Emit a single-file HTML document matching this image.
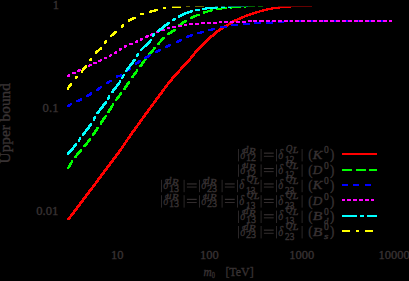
<!DOCTYPE html>
<html><head><meta charset="utf-8"><title>plot</title>
<style>
html,body{margin:0;padding:0;background:#000;}
body{width:409px;height:281px;overflow:hidden;position:relative;font-family:"Liberation Serif",serif;}
svg{position:absolute;left:0;top:0;}
text{font-family:"Liberation Serif",serif;fill:#383233;stroke:#383233;stroke-width:0.35px;}
</style></head><body>
<svg width="409" height="281" viewBox="0 0 409 281">
<rect x="0" y="0" width="409" height="281" fill="#000"/>
<g shape-rendering="crispEdges">
<path d="M271 7h20v1h-20zM266 8h14v1h-14zM262 9h11v1h-11zM259 10h9v1h-9zM255 11h9v1h-9zM252 12h8v1h-8zM249 13h8v1h-8zM246 14h8v1h-8zM244 15h7v1h-7zM241 16h7v1h-7zM239 17h6v1h-6zM237 18h6v1h-6zM234 19h7v1h-7zM232 20h6v1h-6zM234 21h2v1h-2zM229 22h1v1h-1zM228 23h5v1h-5zM226 24h5v1h-5zM224 25h5v1h-5zM227 26h1v1h-1zM219 28h5v1h-5zM218 29h5v1h-5zM216 30h5v1h-5zM215 31h5v1h-5zM214 32h4v1h-4zM213 33h4v1h-4zM212 34h4v1h-4zM210 35h5v1h-5zM209 36h5v1h-5zM208 37h4v1h-4zM207 38h4v1h-4zM206 39h4v1h-4zM205 40h4v1h-4zM204 41h4v1h-4zM203 42h4v1h-4zM202 43h4v1h-4zM201 44h4v1h-4zM200 45h4v1h-4zM199 46h4v1h-4zM198 47h4v1h-4zM197 48h4v1h-4zM196 49h4v1h-4zM195 50h4v1h-4zM194 51h4v1h-4zM194 52h3v1h-3zM193 53h3v1h-3zM192 54h3v1h-3zM191 55h4v1h-4zM190 56h4v1h-4zM190 57h3v1h-3zM189 58h3v1h-3zM188 59h3v1h-3zM187 60h4v1h-4zM186 61h4v1h-4zM185 62h4v1h-4zM184 63h4v1h-4zM183 64h4v1h-4zM182 65h4v1h-4zM181 66h4v1h-4zM180 67h4v1h-4zM180 68h3v1h-3zM179 69h3v1h-3zM178 70h3v1h-3zM177 71h3v1h-3zM176 72h4v1h-4zM175 73h4v1h-4zM174 74h4v1h-4zM173 75h4v1h-4zM172 76h4v1h-4zM171 77h4v1h-4zM171 78h3v1h-3zM170 79h3v1h-3zM169 80h4v1h-4zM168 81h4v1h-4zM167 82h4v1h-4zM167 83h3v1h-3zM166 84h3v1h-3zM165 85h3v1h-3zM164 86h4v1h-4zM164 87h3v1h-3zM163 88h3v1h-3zM162 89h3v1h-3zM161 90h4v1h-4zM161 91h3v1h-3zM160 92h3v1h-3zM159 93h4v1h-4zM158 94h4v1h-4zM158 95h3v1h-3zM157 96h3v1h-3zM156 97h4v1h-4zM155 98h4v1h-4zM155 99h3v1h-3zM154 100h3v1h-3zM153 101h4v1h-4zM153 102h3v1h-3zM152 103h3v1h-3zM151 104h3v1h-3zM150 105h4v1h-4zM150 106h3v1h-3zM149 107h3v1h-3zM148 108h3v1h-3zM147 109h4v1h-4zM147 110h3v1h-3zM146 111h3v1h-3zM145 112h4v1h-4zM144 113h4v1h-4zM144 114h3v1h-3zM143 115h3v1h-3zM142 116h4v1h-4zM142 117h3v1h-3zM141 118h3v1h-3zM140 119h3v1h-3zM139 120h4v1h-4zM139 121h3v1h-3zM138 122h3v1h-3zM137 123h4v1h-4zM137 124h3v1h-3zM136 125h3v1h-3zM135 126h3v1h-3zM134 127h4v1h-4zM134 128h3v1h-3zM133 129h3v1h-3zM132 130h4v1h-4zM131 131h4v1h-4zM131 132h3v1h-3zM130 133h3v1h-3zM129 134h4v1h-4zM129 135h3v1h-3zM128 136h3v1h-3zM127 137h4v1h-4zM127 138h3v1h-3zM126 139h3v1h-3zM125 140h3v1h-3zM125 141h3v1h-3zM124 142h3v1h-3zM123 143h3v1h-3zM123 144h3v1h-3zM122 145h3v1h-3zM121 146h3v1h-3zM121 147h3v1h-3zM120 148h3v1h-3zM119 149h3v1h-3zM118 150h4v1h-4zM118 151h3v1h-3zM117 152h3v1h-3zM116 153h4v1h-4zM115 154h4v1h-4zM115 155h3v1h-3zM114 156h3v1h-3zM113 157h4v1h-4zM112 158h4v1h-4zM112 159h3v1h-3zM111 160h3v1h-3zM110 161h4v1h-4zM109 162h4v1h-4zM109 163h3v1h-3zM108 164h3v1h-3zM107 165h4v1h-4zM106 166h4v1h-4zM106 167h3v1h-3zM105 168h3v1h-3zM104 169h4v1h-4zM103 170h4v1h-4zM103 171h3v1h-3zM102 172h3v1h-3zM101 173h4v1h-4zM100 174h4v1h-4zM100 175h3v1h-3zM99 176h3v1h-3zM98 177h4v1h-4zM97 178h4v1h-4zM97 179h3v1h-3zM96 180h3v1h-3zM95 181h4v1h-4zM95 182h3v1h-3zM94 183h3v1h-3zM93 184h3v1h-3zM92 185h4v1h-4zM92 186h3v1h-3zM91 187h3v1h-3zM90 188h3v1h-3zM89 189h4v1h-4zM88 190h4v1h-4zM88 191h3v1h-3zM87 192h3v1h-3zM86 193h4v1h-4zM85 194h4v1h-4zM85 195h3v1h-3zM84 196h3v1h-3zM83 197h4v1h-4zM82 198h4v1h-4zM82 199h3v1h-3zM81 200h3v1h-3zM80 201h4v1h-4zM79 202h4v1h-4zM79 203h3v1h-3zM78 204h3v1h-3zM77 205h4v1h-4zM76 206h4v1h-4zM76 207h3v1h-3zM75 208h3v1h-3zM74 209h4v1h-4zM73 210h4v1h-4zM73 211h3v1h-3zM72 212h3v1h-3zM71 213h4v1h-4zM70 214h4v1h-4zM70 215h3v1h-3zM69 216h3v1h-3zM68 217h3v1h-3zM67 218h4v1h-4zM67 219h3v1h-3z" fill="#ff0000"/>
<path d="M278 6h34v1h-34z" fill="#ff0000" opacity="0.4"/>
<path d="M225 7h2v1h-2zM231 7h10v1h-10zM244 7h2v1h-2zM217 8h10v1h-10zM230 8h2v1h-2zM210 9h3v1h-3zM216 9h6v1h-6zM207 10h6v1h-6zM203 11h9v1h-9zM203 12h5v1h-5zM203 13h2v1h-2zM196 14h4v1h-4zM193 15h7v1h-7zM191 16h6v1h-6zM190 17h5v1h-5zM190 18h3v1h-3zM184 20h3v1h-3zM182 21h5v1h-5zM181 22h5v1h-5zM180 23h4v1h-4zM178 24h5v1h-5zM173 29h3v1h-3zM171 30h5v1h-5zM170 31h5v1h-5zM168 32h5v1h-5zM167 33h5v1h-5zM167 34h3v1h-3zM162 37h3v1h-3zM161 38h4v1h-4zM160 39h4v1h-4zM160 40h3v1h-3zM159 41h3v1h-3zM158 42h3v1h-3zM157 43h3v1h-3zM157 44h3v1h-3zM153 47h3v1h-3zM153 48h3v1h-3zM152 49h3v1h-3zM151 50h3v1h-3zM150 51h4v1h-4zM149 52h4v1h-4zM148 53h4v1h-4zM148 54h1v1h-1zM144 59h3v1h-3zM143 60h3v1h-3zM142 61h3v1h-3zM141 62h4v1h-4zM141 63h3v1h-3zM140 64h3v1h-3zM139 65h4v1h-4zM139 66h3v1h-3zM136 69h2v1h-2zM136 70h2v1h-2zM135 71h3v1h-3zM134 72h3v1h-3zM133 73h4v1h-4zM133 74h3v1h-3zM132 75h3v1h-3zM131 76h3v1h-3zM131 77h3v1h-3zM128 81h2v1h-2zM127 82h3v1h-3zM126 83h4v1h-4zM126 84h3v1h-3zM125 85h3v1h-3zM124 86h4v1h-4zM124 87h3v1h-3zM123 88h3v1h-3zM123 89h3v1h-3zM120 92h2v1h-2zM119 93h3v1h-3zM119 94h3v1h-3zM118 95h3v1h-3zM117 96h3v1h-3zM116 97h4v1h-4zM116 98h3v1h-3zM115 99h3v1h-3zM115 100h2v1h-2zM112 103h2v1h-2zM112 104h2v1h-2zM111 105h3v1h-3zM110 106h3v1h-3zM110 107h3v1h-3zM109 108h3v1h-3zM108 109h4v1h-4zM108 110h3v1h-3zM107 111h3v1h-3zM107 112h3v1h-3zM105 115h2v1h-2zM104 116h3v1h-3zM103 117h3v1h-3zM102 118h4v1h-4zM102 119h3v1h-3zM101 120h3v1h-3zM100 121h4v1h-4zM100 122h3v1h-3zM100 123h2v1h-2zM100 124h2v1h-2zM96 127h3v1h-3zM96 128h3v1h-3zM95 129h3v1h-3zM94 130h4v1h-4zM94 131h3v1h-3zM93 132h3v1h-3zM92 133h4v1h-4zM92 134h3v1h-3zM92 135h2v1h-2zM89 138h2v1h-2zM88 139h3v1h-3zM87 140h4v1h-4zM87 141h3v1h-3zM86 142h3v1h-3zM85 143h3v1h-3zM84 144h4v1h-4zM83 145h4v1h-4zM83 146h3v1h-3zM80 149h2v1h-2zM79 150h3v1h-3zM78 151h4v1h-4zM77 152h4v1h-4zM76 153h4v1h-4zM76 154h3v1h-3zM75 155h3v1h-3zM74 156h3v1h-3zM74 157h3v1h-3zM71 160h2v1h-2zM71 161h2v1h-2zM70 162h3v1h-3zM69 163h3v1h-3zM69 164h3v1h-3zM68 165h3v1h-3zM68 166h3v1h-3zM67 167h3v1h-3zM67 168h2v1h-2z" fill="#00ff00"/>
<path d="M244 6h2v1h-2zM248 6h7v1h-7zM258 6h5v1h-5z" fill="#00ff00" opacity="0.4"/>
<path d="M289 20h1v1h-1zM299 20h2v1h-2zM311 20h2v1h-2zM323 20h1v1h-1zM334 20h2v1h-2zM346 20h2v1h-2zM358 20h1v1h-1zM369 20h2v1h-2zM381 20h2v1h-2zM271 21h1v1h-1zM282 21h2v1h-2zM289 21h1v1h-1zM299 21h2v1h-2zM311 21h2v1h-2zM323 21h1v1h-1zM334 21h2v1h-2zM346 21h2v1h-2zM358 21h1v1h-1zM369 21h2v1h-2zM381 21h2v1h-2zM254 22h7v1h-7zM266 22h7v1h-7zM278 22h6v1h-6zM243 23h7v1h-7zM254 23h7v1h-7zM266 23h7v1h-7zM231 24h7v1h-7zM243 24h7v1h-7zM231 25h7v1h-7zM220 26h7v1h-7zM220 27h7v1h-7zM211 28h4v1h-4zM208 29h7v1h-7zM208 30h5v1h-5zM200 31h4v1h-4zM197 32h7v1h-7zM197 33h5v1h-5zM190 34h3v1h-3zM187 35h6v1h-6zM186 36h6v1h-6zM186 37h3v1h-3zM179 39h3v1h-3zM177 40h5v1h-5zM176 41h5v1h-5zM176 42h3v1h-3zM168 44h3v1h-3zM166 45h5v1h-5zM165 46h5v1h-5zM165 47h3v1h-3zM158 49h3v1h-3zM156 50h5v1h-5zM155 51h5v1h-5zM155 52h3v1h-3zM149 54h2v1h-2zM147 55h4v1h-4zM145 56h5v1h-5zM144 57h5v1h-5zM144 58h3v1h-3zM138 60h3v1h-3zM137 61h4v1h-4zM135 62h5v1h-5zM135 63h4v1h-4zM135 64h2v1h-2zM130 67h1v1h-1zM130 68h1v1h-1zM129 69h2v1h-2zM128 70h2v1h-2zM127 71h1v1h-1zM120 74h2v1h-2zM116 75h6v1h-6zM116 76h6v1h-6zM116 77h2v1h-2zM109 80h3v1h-3zM107 81h5v1h-5zM106 82h4v1h-4zM106 83h3v1h-3zM100 86h2v1h-2zM98 87h4v1h-4zM97 88h4v1h-4zM96 89h4v1h-4zM96 90h3v1h-3zM90 92h2v1h-2zM89 93h3v1h-3zM87 94h5v1h-5zM86 95h5v1h-5zM86 96h3v1h-3zM80 98h2v1h-2zM78 99h4v1h-4zM76 100h6v1h-6zM76 101h4v1h-4zM70 103h2v1h-2zM68 104h4v1h-4zM67 105h4v1h-4zM67 106h3v1h-3z" fill="#0000ff"/>
<path d="M248 20h4v1h-4zM253 20h4v1h-4zM259 20h5v1h-5zM266 20h4v1h-4zM272 20h4v1h-4zM278 20h4v1h-4zM284 20h4v1h-4zM290 20h3v1h-3zM295 20h4v1h-4zM301 20h4v1h-4zM307 20h4v1h-4zM313 20h4v1h-4zM319 20h4v1h-4zM324 20h4v1h-4zM330 20h4v1h-4zM336 20h4v1h-4zM342 20h4v1h-4zM348 20h4v1h-4zM354 20h4v1h-4zM359 20h4v1h-4zM365 20h4v1h-4zM371 20h4v1h-4zM377 20h4v1h-4zM383 20h4v1h-4zM389 20h3v1h-3zM219 21h3v1h-3zM224 21h4v1h-4zM230 21h4v1h-4zM236 21h4v1h-4zM242 21h4v1h-4zM248 21h4v1h-4zM253 21h4v1h-4zM259 21h5v1h-5zM266 21h4v1h-4zM272 21h4v1h-4zM278 21h4v1h-4zM284 21h4v1h-4zM290 21h3v1h-3zM295 21h4v1h-4zM301 21h4v1h-4zM307 21h4v1h-4zM313 21h4v1h-4zM319 21h4v1h-4zM324 21h4v1h-4zM330 21h4v1h-4zM336 21h4v1h-4zM342 21h4v1h-4zM348 21h4v1h-4zM354 21h4v1h-4zM359 21h4v1h-4zM365 21h4v1h-4zM371 21h4v1h-4zM377 21h4v1h-4zM383 21h4v1h-4zM389 21h3v1h-3zM201 22h4v1h-4zM207 22h4v1h-4zM213 22h4v1h-4zM219 22h3v1h-3zM224 22h4v1h-4zM230 22h4v1h-4zM236 22h4v1h-4zM242 22h4v1h-4zM189 23h4v1h-4zM195 23h4v1h-4zM201 23h4v1h-4zM207 23h4v1h-4zM213 23h4v1h-4zM184 24h3v1h-3zM189 24h4v1h-4zM195 24h4v1h-4zM178 25h4v1h-4zM184 25h3v1h-3zM172 26h4v1h-4zM178 26h4v1h-4zM167 27h3v1h-3zM172 27h4v1h-4zM167 28h3v1h-3zM163 29h2v1h-2zM161 30h4v1h-4zM156 31h1v1h-1zM156 32h3v1h-3zM151 33h2v1h-2zM150 34h2v1h-2zM146 35h3v1h-3zM150 35h2v1h-2zM145 36h4v1h-4zM145 37h3v1h-3zM140 38h3v1h-3zM140 39h3v1h-3zM136 40h2v1h-2zM140 40h2v1h-2zM135 41h3v1h-3zM135 42h3v1h-3zM129 43h4v1h-4zM129 44h4v1h-4zM124 45h3v1h-3zM124 46h3v1h-3zM124 47h2v1h-2zM119 48h3v1h-3zM119 49h3v1h-3zM119 50h2v1h-2zM115 51h2v1h-2zM114 52h3v1h-3zM114 53h3v1h-3zM110 54h2v1h-2zM109 55h3v1h-3zM109 56h2v1h-2zM104 57h3v1h-3zM104 58h3v1h-3zM100 59h2v1h-2zM98 60h4v1h-4zM98 61h3v1h-3zM93 62h4v1h-4zM93 63h4v1h-4zM89 64h3v1h-3zM88 65h4v1h-4zM88 66h2v1h-2zM78 69h3v1h-3zM77 70h4v1h-4zM77 71h3v1h-3zM72 72h4v1h-4zM72 73h4v1h-4zM68 74h2v1h-2zM67 75h3v1h-3zM67 76h3v1h-3z" fill="#ff00ff"/>
<path d="M205 7h13v1h-13zM221 7h4v1h-4zM228 7h3v1h-3zM202 8h15v1h-15zM195 9h5v1h-5zM202 9h5v1h-5zM190 10h3v1h-3zM195 10h5v1h-5zM187 11h6v1h-6zM184 12h8v1h-8zM182 13h7v1h-7zM180 14h6v1h-6zM178 15h6v1h-6zM178 16h4v1h-4zM178 17h2v1h-2zM173 18h3v1h-3zM172 19h4v1h-4zM172 20h3v1h-3zM167 22h3v1h-3zM166 23h4v1h-4zM164 24h5v1h-5zM163 25h5v1h-5zM162 26h4v1h-4zM161 27h4v1h-4zM159 28h5v1h-5zM158 29h5v1h-5zM157 30h4v1h-4zM157 31h3v1h-3zM153 33h2v1h-2zM152 34h3v1h-3zM152 35h3v1h-3zM152 36h2v1h-2zM150 39h2v1h-2zM149 40h3v1h-3zM148 41h3v1h-3zM147 42h4v1h-4zM146 43h4v1h-4zM145 44h4v1h-4zM144 45h4v1h-4zM143 46h4v1h-4zM142 47h3v1h-3zM141 48h3v1h-3zM140 49h3v1h-3zM140 50h2v1h-2zM137 53h2v1h-2zM136 54h3v1h-3zM136 55h3v1h-3zM136 56h2v1h-2zM133 59h3v1h-3zM132 60h4v1h-4zM132 61h3v1h-3zM131 62h3v1h-3zM130 63h4v1h-4zM129 64h4v1h-4zM129 65h3v1h-3zM128 66h3v1h-3zM127 67h3v1h-3zM126 68h4v1h-4zM126 69h3v1h-3zM125 70h3v1h-3zM125 71h2v1h-2zM123 74h2v1h-2zM122 75h3v1h-3zM122 76h2v1h-2zM121 77h3v1h-3zM121 78h2v1h-2zM119 80h2v1h-2zM119 81h2v1h-2zM118 82h3v1h-3zM117 83h3v1h-3zM116 84h4v1h-4zM116 85h3v1h-3zM115 86h3v1h-3zM114 87h3v1h-3zM113 88h4v1h-4zM112 89h4v1h-4zM112 90h3v1h-3zM111 91h3v1h-3zM111 92h3v1h-3zM108 95h2v1h-2zM108 96h2v1h-2zM107 97h3v1h-3zM107 98h3v1h-3zM107 99h2v1h-2zM105 101h2v1h-2zM104 102h3v1h-3zM103 103h4v1h-4zM102 104h4v1h-4zM102 105h3v1h-3zM101 106h3v1h-3zM100 107h4v1h-4zM99 108h4v1h-4zM99 109h3v1h-3zM98 110h3v1h-3zM97 111h3v1h-3zM96 112h4v1h-4zM96 113h3v1h-3zM94 116h2v1h-2zM93 117h3v1h-3zM93 118h3v1h-3zM93 119h2v1h-2zM93 120h2v1h-2zM90 123h2v1h-2zM89 124h3v1h-3zM88 125h4v1h-4zM88 126h3v1h-3zM87 127h3v1h-3zM86 128h4v1h-4zM85 129h4v1h-4zM85 130h3v1h-3zM84 131h3v1h-3zM83 132h3v1h-3zM82 133h4v1h-4zM82 134h3v1h-3zM82 135h2v1h-2zM79 137h2v1h-2zM79 138h2v1h-2zM78 139h3v1h-3zM78 140h2v1h-2zM78 141h2v1h-2zM75 143h2v1h-2zM74 144h3v1h-3zM73 145h4v1h-4zM73 146h3v1h-3zM72 147h3v1h-3zM71 148h3v1h-3zM70 149h4v1h-4zM69 150h4v1h-4zM68 151h4v1h-4zM67 152h4v1h-4zM67 153h3v1h-3zM67 154h2v1h-2z" fill="#00ffff"/>
<path d="M215 6h3v1h-3zM221 6h4v1h-4zM228 6h16v1h-16zM246 6h2v1h-2z" fill="#00ffff" opacity="0.4"/>
<path d="M163 7h3v1h-3zM172 7h9v1h-9zM163 8h3v1h-3zM154 9h4v1h-4zM150 10h8v1h-8zM149 11h7v1h-7zM149 12h3v1h-3zM140 13h4v1h-4zM140 14h4v1h-4zM132 17h4v1h-4zM130 18h6v1h-6zM128 19h6v1h-6zM128 20h4v1h-4zM128 21h2v1h-2zM122 24h2v1h-2zM121 25h3v1h-3zM121 26h3v1h-3zM121 27h2v1h-2zM114 31h3v1h-3zM113 32h4v1h-4zM112 33h4v1h-4zM111 34h4v1h-4zM110 35h4v1h-4zM110 36h2v1h-2zM105 40h2v1h-2zM104 41h3v1h-3zM104 42h3v1h-3zM104 43h2v1h-2zM100 47h2v1h-2zM99 48h3v1h-3zM98 49h4v1h-4zM96 50h4v1h-4zM95 51h4v1h-4zM95 52h3v1h-3zM95 53h2v1h-2zM90 58h2v1h-2zM89 59h3v1h-3zM89 60h3v1h-3zM85 65h2v1h-2zM84 66h3v1h-3zM83 67h4v1h-4zM82 68h4v1h-4zM82 69h3v1h-3zM81 70h3v1h-3zM81 71h2v1h-2zM81 72h2v1h-2zM75 76h3v1h-3zM75 77h3v1h-3zM75 78h2v1h-2zM70 83h2v1h-2zM69 84h3v1h-3zM68 85h4v1h-4zM68 86h3v1h-3zM67 87h3v1h-3zM67 88h2v1h-2zM67 89h2v1h-2z" fill="#ffff00"/>
<path d="M172 6h9v1h-9zM186 6h4v1h-4zM195 6h9v1h-9z" fill="#ffff00" opacity="0.4"/>
<path d="M342 153h35v2h-35z" fill="#ff0000"/>
<path d="M342 169h10v2h-10zM356 169h10v2h-10zM369 169h8v2h-8z" fill="#00ff00"/>
<path d="M342 184h6v2h-6zM353 184h6v2h-6zM365 184h6v2h-6z" fill="#0000ff"/>
<path d="M342 199h3v2h-3zM347 199h4v2h-4zM353 199h4v2h-4zM359 199h4v2h-4zM365 199h4v2h-4zM371 199h3v2h-3z" fill="#ff00ff"/>
<path d="M342 215h15v2h-15zM360 215h4v2h-4zM367 215h10v2h-10z" fill="#00ffff"/>
<path d="M342 230h8v2h-8zM356 230h3v2h-3zM365 230h8v2h-8z" fill="#ffff00"/>
</g>
<g>
<text x="52.80" y="8.50" font-size="13.20" text-anchor="start" textLength="6.25" lengthAdjust="spacingAndGlyphs" >1</text>
<text x="42.60" y="111.80" font-size="13.20" text-anchor="start" textLength="15.90" lengthAdjust="spacingAndGlyphs" >0.1</text>
<text x="36.20" y="214.80" font-size="13.20" text-anchor="start" textLength="22.15" lengthAdjust="spacingAndGlyphs" >0.01</text>
<text x="110.95" y="258.60" font-size="13.20" text-anchor="start" textLength="12.50" lengthAdjust="spacingAndGlyphs" >10</text>
<text x="200.12" y="258.60" font-size="13.20" text-anchor="start" textLength="18.75" lengthAdjust="spacingAndGlyphs" >100</text>
<text x="289.30" y="258.60" font-size="13.20" text-anchor="start" textLength="25.00" lengthAdjust="spacingAndGlyphs" >1000</text>
<text x="378.48" y="258.60" font-size="13.20" text-anchor="start" textLength="31.25" lengthAdjust="spacingAndGlyphs" >10000</text>
<text x="203.50" y="276.10" font-size="12.60" text-anchor="start" textLength="8.20" lengthAdjust="spacingAndGlyphs" font-style="italic" >m</text>
<text x="211.80" y="277.60" font-size="8.60" text-anchor="start" textLength="3.20" lengthAdjust="spacingAndGlyphs" >0</text>
<text x="225.40" y="276.10" font-size="12.80" text-anchor="start" textLength="28.20" lengthAdjust="spacingAndGlyphs" >[TeV]</text>
<text transform="translate(9.8,163.4) rotate(-90) scale(1,1.05)" x="0" y="0" font-size="14.2" textLength="80.2" lengthAdjust="spacingAndGlyphs">Upper bound</text>
<rect x="238.00" y="149.00" width="1.0" height="12.4" fill="#2a2627"/>
<text x="240.20" y="158.50" font-size="13.80" text-anchor="start" textLength="4.90" lengthAdjust="spacingAndGlyphs" font-style="italic" >δ</text>
<text x="243.40" y="152.70" font-size="10.40" text-anchor="start" textLength="4.90" lengthAdjust="spacingAndGlyphs" font-style="italic" >d</text>
<text x="249.10" y="154.10" font-size="8.40" text-anchor="start" textLength="6.60" lengthAdjust="spacingAndGlyphs" font-style="italic" >R</text>
<text x="245.90" y="161.20" font-size="10.40" text-anchor="start" textLength="10.00" lengthAdjust="spacingAndGlyphs" >12</text>
<rect x="260.60" y="149.00" width="1.0" height="12.4" fill="#2a2627"/>
<rect x="263.90" y="152.60" width="9.8" height="1.1" fill="#383233"/>
<rect x="263.90" y="155.80" width="9.8" height="0.9" fill="#383233"/>
<rect x="276.00" y="149.00" width="1.0" height="12.4" fill="#2a2627"/>
<text x="278.20" y="158.50" font-size="13.80" text-anchor="start" textLength="4.90" lengthAdjust="spacingAndGlyphs" font-style="italic" >δ</text>
<text x="285.70" y="151.60" font-size="10.40" text-anchor="start" textLength="6.70" lengthAdjust="spacingAndGlyphs" font-style="italic" >Q</text>
<text x="292.80" y="153.20" font-size="8.40" text-anchor="start" textLength="5.60" lengthAdjust="spacingAndGlyphs" font-style="italic" >L</text>
<text x="285.10" y="162.80" font-size="10.40" text-anchor="start" textLength="9.20" lengthAdjust="spacingAndGlyphs" >12</text>
<rect x="301.60" y="149.00" width="1.0" height="12.4" fill="#2a2627"/>
<text x="308.30" y="159.40" font-size="15.00" text-anchor="start" textLength="4.30" lengthAdjust="spacingAndGlyphs" >(</text>
<text x="312.70" y="158.50" font-size="13.20" text-anchor="start" textLength="9.60" lengthAdjust="spacingAndGlyphs" font-style="italic" >K</text>
<text x="324.10" y="153.40" font-size="9.90" text-anchor="start" textLength="4.80" lengthAdjust="spacingAndGlyphs" >0</text>
<text x="330.10" y="159.40" font-size="15.00" text-anchor="start" textLength="4.30" lengthAdjust="spacingAndGlyphs" >)</text>
<rect x="238.00" y="164.40" width="1.0" height="12.4" fill="#2a2627"/>
<text x="240.20" y="173.90" font-size="13.80" text-anchor="start" textLength="4.90" lengthAdjust="spacingAndGlyphs" font-style="italic" >δ</text>
<text x="243.40" y="168.10" font-size="10.40" text-anchor="start" textLength="4.90" lengthAdjust="spacingAndGlyphs" font-style="italic" >u</text>
<text x="249.10" y="169.50" font-size="8.40" text-anchor="start" textLength="6.60" lengthAdjust="spacingAndGlyphs" font-style="italic" >R</text>
<text x="245.90" y="176.60" font-size="10.40" text-anchor="start" textLength="10.00" lengthAdjust="spacingAndGlyphs" >12</text>
<rect x="260.60" y="164.40" width="1.0" height="12.4" fill="#2a2627"/>
<rect x="263.90" y="168.00" width="9.8" height="1.1" fill="#383233"/>
<rect x="263.90" y="171.20" width="9.8" height="0.9" fill="#383233"/>
<rect x="276.00" y="164.40" width="1.0" height="12.4" fill="#2a2627"/>
<text x="278.20" y="173.90" font-size="13.80" text-anchor="start" textLength="4.90" lengthAdjust="spacingAndGlyphs" font-style="italic" >δ</text>
<text x="285.70" y="167.00" font-size="10.40" text-anchor="start" textLength="6.70" lengthAdjust="spacingAndGlyphs" font-style="italic" >Q</text>
<text x="292.80" y="168.60" font-size="8.40" text-anchor="start" textLength="5.60" lengthAdjust="spacingAndGlyphs" font-style="italic" >L</text>
<text x="285.10" y="178.20" font-size="10.40" text-anchor="start" textLength="9.20" lengthAdjust="spacingAndGlyphs" >12</text>
<rect x="301.60" y="164.40" width="1.0" height="12.4" fill="#2a2627"/>
<text x="308.30" y="174.80" font-size="15.00" text-anchor="start" textLength="4.30" lengthAdjust="spacingAndGlyphs" >(</text>
<text x="312.70" y="173.90" font-size="13.20" text-anchor="start" textLength="9.60" lengthAdjust="spacingAndGlyphs" font-style="italic" >D</text>
<text x="324.10" y="168.80" font-size="9.90" text-anchor="start" textLength="4.80" lengthAdjust="spacingAndGlyphs" >0</text>
<text x="330.10" y="174.80" font-size="15.00" text-anchor="start" textLength="4.30" lengthAdjust="spacingAndGlyphs" >)</text>
<rect x="161.00" y="179.80" width="1.0" height="12.4" fill="#2a2627"/>
<text x="163.20" y="189.30" font-size="13.80" text-anchor="start" textLength="4.90" lengthAdjust="spacingAndGlyphs" font-style="italic" >δ</text>
<text x="166.40" y="183.50" font-size="10.40" text-anchor="start" textLength="4.90" lengthAdjust="spacingAndGlyphs" font-style="italic" >d</text>
<text x="172.10" y="184.90" font-size="8.40" text-anchor="start" textLength="6.60" lengthAdjust="spacingAndGlyphs" font-style="italic" >R</text>
<text x="168.90" y="192.00" font-size="10.40" text-anchor="start" textLength="10.00" lengthAdjust="spacingAndGlyphs" >13</text>
<rect x="183.60" y="179.80" width="1.0" height="12.4" fill="#2a2627"/>
<rect x="186.90" y="183.40" width="9.8" height="1.1" fill="#383233"/>
<rect x="186.90" y="186.60" width="9.8" height="0.9" fill="#383233"/>
<rect x="199.00" y="179.80" width="1.0" height="12.4" fill="#2a2627"/>
<text x="201.20" y="189.30" font-size="13.80" text-anchor="start" textLength="4.90" lengthAdjust="spacingAndGlyphs" font-style="italic" >δ</text>
<text x="204.40" y="183.50" font-size="10.40" text-anchor="start" textLength="4.90" lengthAdjust="spacingAndGlyphs" font-style="italic" >d</text>
<text x="210.10" y="184.90" font-size="8.40" text-anchor="start" textLength="6.60" lengthAdjust="spacingAndGlyphs" font-style="italic" >R</text>
<text x="206.90" y="192.00" font-size="10.40" text-anchor="start" textLength="10.00" lengthAdjust="spacingAndGlyphs" >23</text>
<rect x="221.60" y="179.80" width="1.0" height="12.4" fill="#2a2627"/>
<rect x="224.90" y="183.40" width="9.8" height="1.1" fill="#383233"/>
<rect x="224.90" y="186.60" width="9.8" height="0.9" fill="#383233"/>
<rect x="237.00" y="179.80" width="1.0" height="12.4" fill="#2a2627"/>
<text x="239.20" y="189.30" font-size="13.80" text-anchor="start" textLength="4.90" lengthAdjust="spacingAndGlyphs" font-style="italic" >δ</text>
<text x="246.70" y="182.40" font-size="10.40" text-anchor="start" textLength="6.70" lengthAdjust="spacingAndGlyphs" font-style="italic" >Q</text>
<text x="253.80" y="184.00" font-size="8.40" text-anchor="start" textLength="5.60" lengthAdjust="spacingAndGlyphs" font-style="italic" >L</text>
<text x="246.10" y="193.60" font-size="10.40" text-anchor="start" textLength="9.20" lengthAdjust="spacingAndGlyphs" >13</text>
<rect x="260.60" y="179.80" width="1.0" height="12.4" fill="#2a2627"/>
<rect x="263.90" y="183.40" width="9.8" height="1.1" fill="#383233"/>
<rect x="263.90" y="186.60" width="9.8" height="0.9" fill="#383233"/>
<rect x="276.00" y="179.80" width="1.0" height="12.4" fill="#2a2627"/>
<text x="278.20" y="189.30" font-size="13.80" text-anchor="start" textLength="4.90" lengthAdjust="spacingAndGlyphs" font-style="italic" >δ</text>
<text x="285.70" y="182.40" font-size="10.40" text-anchor="start" textLength="6.70" lengthAdjust="spacingAndGlyphs" font-style="italic" >Q</text>
<text x="292.80" y="184.00" font-size="8.40" text-anchor="start" textLength="5.60" lengthAdjust="spacingAndGlyphs" font-style="italic" >L</text>
<text x="285.10" y="193.60" font-size="10.40" text-anchor="start" textLength="9.20" lengthAdjust="spacingAndGlyphs" >23</text>
<rect x="301.60" y="179.80" width="1.0" height="12.4" fill="#2a2627"/>
<text x="308.30" y="190.20" font-size="15.00" text-anchor="start" textLength="4.30" lengthAdjust="spacingAndGlyphs" >(</text>
<text x="312.70" y="189.30" font-size="13.20" text-anchor="start" textLength="9.60" lengthAdjust="spacingAndGlyphs" font-style="italic" >K</text>
<text x="324.10" y="184.20" font-size="9.90" text-anchor="start" textLength="4.80" lengthAdjust="spacingAndGlyphs" >0</text>
<text x="330.10" y="190.20" font-size="15.00" text-anchor="start" textLength="4.30" lengthAdjust="spacingAndGlyphs" >)</text>
<rect x="161.00" y="195.20" width="1.0" height="12.4" fill="#2a2627"/>
<text x="163.20" y="204.70" font-size="13.80" text-anchor="start" textLength="4.90" lengthAdjust="spacingAndGlyphs" font-style="italic" >δ</text>
<text x="166.40" y="198.90" font-size="10.40" text-anchor="start" textLength="4.90" lengthAdjust="spacingAndGlyphs" font-style="italic" >u</text>
<text x="172.10" y="200.30" font-size="8.40" text-anchor="start" textLength="6.60" lengthAdjust="spacingAndGlyphs" font-style="italic" >R</text>
<text x="168.90" y="207.40" font-size="10.40" text-anchor="start" textLength="10.00" lengthAdjust="spacingAndGlyphs" >13</text>
<rect x="183.60" y="195.20" width="1.0" height="12.4" fill="#2a2627"/>
<rect x="186.90" y="198.80" width="9.8" height="1.1" fill="#383233"/>
<rect x="186.90" y="202.00" width="9.8" height="0.9" fill="#383233"/>
<rect x="199.00" y="195.20" width="1.0" height="12.4" fill="#2a2627"/>
<text x="201.20" y="204.70" font-size="13.80" text-anchor="start" textLength="4.90" lengthAdjust="spacingAndGlyphs" font-style="italic" >δ</text>
<text x="204.40" y="198.90" font-size="10.40" text-anchor="start" textLength="4.90" lengthAdjust="spacingAndGlyphs" font-style="italic" >u</text>
<text x="210.10" y="200.30" font-size="8.40" text-anchor="start" textLength="6.60" lengthAdjust="spacingAndGlyphs" font-style="italic" >R</text>
<text x="206.90" y="207.40" font-size="10.40" text-anchor="start" textLength="10.00" lengthAdjust="spacingAndGlyphs" >23</text>
<rect x="221.60" y="195.20" width="1.0" height="12.4" fill="#2a2627"/>
<rect x="224.90" y="198.80" width="9.8" height="1.1" fill="#383233"/>
<rect x="224.90" y="202.00" width="9.8" height="0.9" fill="#383233"/>
<rect x="237.00" y="195.20" width="1.0" height="12.4" fill="#2a2627"/>
<text x="239.20" y="204.70" font-size="13.80" text-anchor="start" textLength="4.90" lengthAdjust="spacingAndGlyphs" font-style="italic" >δ</text>
<text x="246.70" y="197.80" font-size="10.40" text-anchor="start" textLength="6.70" lengthAdjust="spacingAndGlyphs" font-style="italic" >Q</text>
<text x="253.80" y="199.40" font-size="8.40" text-anchor="start" textLength="5.60" lengthAdjust="spacingAndGlyphs" font-style="italic" >L</text>
<text x="246.10" y="209.00" font-size="10.40" text-anchor="start" textLength="9.20" lengthAdjust="spacingAndGlyphs" >13</text>
<rect x="260.60" y="195.20" width="1.0" height="12.4" fill="#2a2627"/>
<rect x="263.90" y="198.80" width="9.8" height="1.1" fill="#383233"/>
<rect x="263.90" y="202.00" width="9.8" height="0.9" fill="#383233"/>
<rect x="276.00" y="195.20" width="1.0" height="12.4" fill="#2a2627"/>
<text x="278.20" y="204.70" font-size="13.80" text-anchor="start" textLength="4.90" lengthAdjust="spacingAndGlyphs" font-style="italic" >δ</text>
<text x="285.70" y="197.80" font-size="10.40" text-anchor="start" textLength="6.70" lengthAdjust="spacingAndGlyphs" font-style="italic" >Q</text>
<text x="292.80" y="199.40" font-size="8.40" text-anchor="start" textLength="5.60" lengthAdjust="spacingAndGlyphs" font-style="italic" >L</text>
<text x="285.10" y="209.00" font-size="10.40" text-anchor="start" textLength="9.20" lengthAdjust="spacingAndGlyphs" >23</text>
<rect x="301.60" y="195.20" width="1.0" height="12.4" fill="#2a2627"/>
<text x="308.30" y="205.60" font-size="15.00" text-anchor="start" textLength="4.30" lengthAdjust="spacingAndGlyphs" >(</text>
<text x="312.70" y="204.70" font-size="13.20" text-anchor="start" textLength="9.60" lengthAdjust="spacingAndGlyphs" font-style="italic" >D</text>
<text x="324.10" y="199.60" font-size="9.90" text-anchor="start" textLength="4.80" lengthAdjust="spacingAndGlyphs" >0</text>
<text x="330.10" y="205.60" font-size="15.00" text-anchor="start" textLength="4.30" lengthAdjust="spacingAndGlyphs" >)</text>
<rect x="238.00" y="210.60" width="1.0" height="12.4" fill="#2a2627"/>
<text x="240.20" y="220.10" font-size="13.80" text-anchor="start" textLength="4.90" lengthAdjust="spacingAndGlyphs" font-style="italic" >δ</text>
<text x="243.40" y="214.30" font-size="10.40" text-anchor="start" textLength="4.90" lengthAdjust="spacingAndGlyphs" font-style="italic" >d</text>
<text x="249.10" y="215.70" font-size="8.40" text-anchor="start" textLength="6.60" lengthAdjust="spacingAndGlyphs" font-style="italic" >R</text>
<text x="245.90" y="222.80" font-size="10.40" text-anchor="start" textLength="10.00" lengthAdjust="spacingAndGlyphs" >13</text>
<rect x="260.60" y="210.60" width="1.0" height="12.4" fill="#2a2627"/>
<rect x="263.90" y="214.20" width="9.8" height="1.1" fill="#383233"/>
<rect x="263.90" y="217.40" width="9.8" height="0.9" fill="#383233"/>
<rect x="276.00" y="210.60" width="1.0" height="12.4" fill="#2a2627"/>
<text x="278.20" y="220.10" font-size="13.80" text-anchor="start" textLength="4.90" lengthAdjust="spacingAndGlyphs" font-style="italic" >δ</text>
<text x="285.70" y="213.20" font-size="10.40" text-anchor="start" textLength="6.70" lengthAdjust="spacingAndGlyphs" font-style="italic" >Q</text>
<text x="292.80" y="214.80" font-size="8.40" text-anchor="start" textLength="5.60" lengthAdjust="spacingAndGlyphs" font-style="italic" >L</text>
<text x="285.10" y="224.40" font-size="10.40" text-anchor="start" textLength="9.20" lengthAdjust="spacingAndGlyphs" >13</text>
<rect x="301.60" y="210.60" width="1.0" height="12.4" fill="#2a2627"/>
<text x="308.30" y="221.00" font-size="15.00" text-anchor="start" textLength="4.30" lengthAdjust="spacingAndGlyphs" >(</text>
<text x="312.70" y="220.10" font-size="13.20" text-anchor="start" textLength="9.60" lengthAdjust="spacingAndGlyphs" font-style="italic" >B</text>
<text x="324.10" y="215.00" font-size="9.90" text-anchor="start" textLength="4.80" lengthAdjust="spacingAndGlyphs" >0</text>
<text x="323.90" y="223.70" font-size="8.80" text-anchor="start" textLength="4.40" lengthAdjust="spacingAndGlyphs" font-style="italic" >d</text>
<text x="330.10" y="221.00" font-size="15.00" text-anchor="start" textLength="4.30" lengthAdjust="spacingAndGlyphs" >)</text>
<rect x="238.00" y="226.00" width="1.0" height="12.4" fill="#2a2627"/>
<text x="240.20" y="235.50" font-size="13.80" text-anchor="start" textLength="4.90" lengthAdjust="spacingAndGlyphs" font-style="italic" >δ</text>
<text x="243.40" y="229.70" font-size="10.40" text-anchor="start" textLength="4.90" lengthAdjust="spacingAndGlyphs" font-style="italic" >d</text>
<text x="249.10" y="231.10" font-size="8.40" text-anchor="start" textLength="6.60" lengthAdjust="spacingAndGlyphs" font-style="italic" >R</text>
<text x="245.90" y="238.20" font-size="10.40" text-anchor="start" textLength="10.00" lengthAdjust="spacingAndGlyphs" >23</text>
<rect x="260.60" y="226.00" width="1.0" height="12.4" fill="#2a2627"/>
<rect x="263.90" y="229.60" width="9.8" height="1.1" fill="#383233"/>
<rect x="263.90" y="232.80" width="9.8" height="0.9" fill="#383233"/>
<rect x="276.00" y="226.00" width="1.0" height="12.4" fill="#2a2627"/>
<text x="278.20" y="235.50" font-size="13.80" text-anchor="start" textLength="4.90" lengthAdjust="spacingAndGlyphs" font-style="italic" >δ</text>
<text x="285.70" y="228.60" font-size="10.40" text-anchor="start" textLength="6.70" lengthAdjust="spacingAndGlyphs" font-style="italic" >Q</text>
<text x="292.80" y="230.20" font-size="8.40" text-anchor="start" textLength="5.60" lengthAdjust="spacingAndGlyphs" font-style="italic" >L</text>
<text x="285.10" y="239.80" font-size="10.40" text-anchor="start" textLength="9.20" lengthAdjust="spacingAndGlyphs" >23</text>
<rect x="301.60" y="226.00" width="1.0" height="12.4" fill="#2a2627"/>
<text x="308.30" y="236.40" font-size="15.00" text-anchor="start" textLength="4.30" lengthAdjust="spacingAndGlyphs" >(</text>
<text x="312.70" y="235.50" font-size="13.20" text-anchor="start" textLength="9.60" lengthAdjust="spacingAndGlyphs" font-style="italic" >B</text>
<text x="324.10" y="230.40" font-size="9.90" text-anchor="start" textLength="4.80" lengthAdjust="spacingAndGlyphs" >0</text>
<text x="323.90" y="239.10" font-size="8.80" text-anchor="start" textLength="4.40" lengthAdjust="spacingAndGlyphs" font-style="italic" >s</text>
<text x="330.10" y="236.40" font-size="15.00" text-anchor="start" textLength="4.30" lengthAdjust="spacingAndGlyphs" >)</text>
</g>
</svg>
</body></html>
